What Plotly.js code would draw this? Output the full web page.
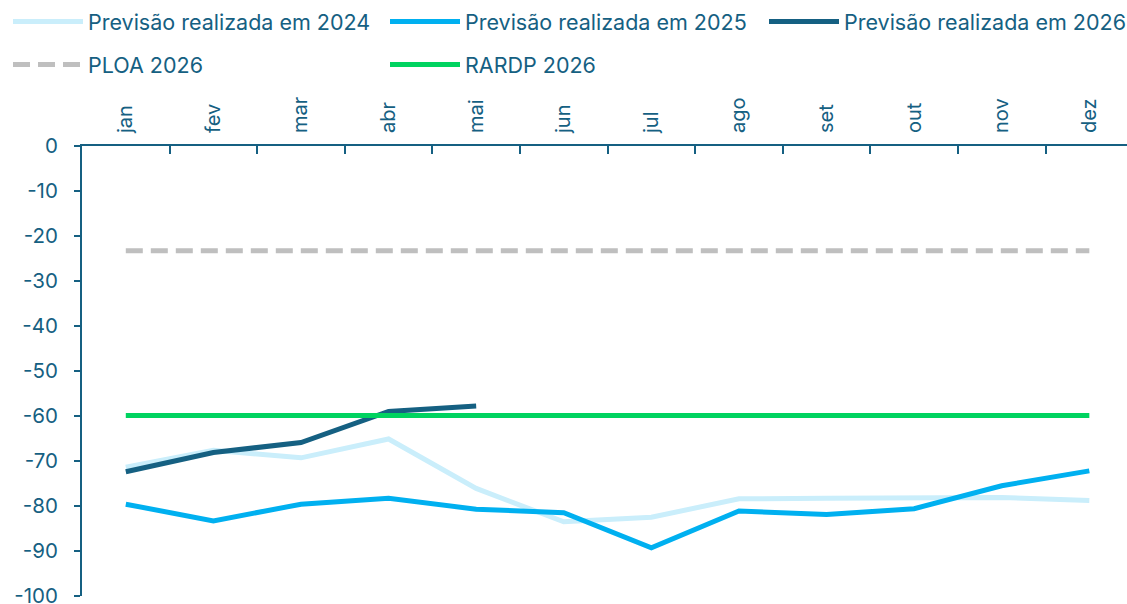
<!DOCTYPE html>
<html>
<head>
<meta charset="utf-8">
<script src="https://cdn.plot.ly/plotly-3.0.1.min.js"></script>
<style>
  html, body { margin: 0; padding: 0; background: #fff; }
  #chart { width: 1127px; height: 604px; }
</style>
</head>
<body>
<div id="chart"></div>
<script>
// --- Data ---
const months = ['jan', 'fev', 'mar', 'abr', 'mai', 'jun', 'jul', 'ago', 'set', 'out', 'nov', 'dez'];

const prev2024 = [-71.4, -67.6, -69.3, -65.1, -76.1, -83.5, -82.5, -78.4, -78.3, -78.3, -78.1, -78.8];
const prev2025 = [-79.6, -83.3, -79.6, -78.3, -80.7, -81.5, -89.3, -81.1, -81.9, -80.6, -75.5, -72.2];
const prev2026 = [-72.4, -68.1, -65.9, -59.0, -57.8];
const ploa2026 = [-23.3, -23.3, -23.3, -23.3, -23.3, -23.3, -23.3, -23.3, -23.3, -23.3, -23.3, -23.3];
const rardp2026 = [-59.9, -59.9, -59.9, -59.9, -59.9, -59.9, -59.9, -59.9, -59.9, -59.9, -59.9, -59.9];

const yTickVals = [0, -10, -20, -30, -40, -50, -60, -70, -80, -90, -100];
const yTickText = ['0', '-10', '-20', '-30', '-40', '-50', '-60', '-70', '-80', '-90', '-100'];

const textColor = '#156082';
const fontFamily = 'Inter, "Noto Sans", sans-serif';

// --- Traces ---
function lineTrace(name, y, color, legend, group, dash) {
    return {
        x: months.slice(0, y.length),
        y: y,
        type: 'scatter',
        mode: 'lines',
        name: name,
        legend: legend,
        legendgroup: group,
        line: { color: color, width: 5, dash: dash || 'solid' },
        hoverinfo: 'skip'
    };
}

const traces = [
    lineTrace('Previsão realizada em 2024', prev2024, '#CAEEFB', 'legend', 'a'),
    lineTrace('Previsão realizada em 2025', prev2025, '#00B0F0', 'legend2', 'c'),
    lineTrace('Previsão realizada em 2026', prev2026, '#156082', 'legend3', 'e'),
    lineTrace('PLOA 2026', ploa2026, '#BFBFBF', 'legend', 'b', '17px,8px'),
    lineTrace('RARDP 2026', rardp2026, '#00D360', 'legend2', 'd')
];

// --- Layout ---
const legendBase = {
    orientation: 'v',
    xref: 'container', yref: 'container',
    xanchor: 'left', yanchor: 'top',
    y: 1 - 1 / 604,
    bgcolor: 'rgba(0,0,0,0)',
    borderwidth: 0,
    itemwidth: 70,
    tracegroupgap: 12,
    itemclick: false,
    itemdoubleclick: false,
    font: { family: fontFamily, size: 21.5, color: textColor }
};

const layout = {
    width: 1127,
    height: 604,
    margin: { l: 82, r: 0, t: 146, b: 8, autoexpand: false },
    paper_bgcolor: '#fff',
    plot_bgcolor: '#fff',
    font: { family: fontFamily, size: 20, color: textColor },
    showlegend: true,
    legend: Object.assign({}, legendBase, { x: 8 / 1127 }),
    legend2: Object.assign({}, legendBase, { x: 385 / 1127 }),
    legend3: Object.assign({}, legendBase, { x: 764 / 1127 }),
    xaxis: {
        type: 'category',
        side: 'top',
        range: [-0.5, 11.43],
        tickangle: -90,
        tickson: 'boundaries',
        ticks: 'inside',
        ticklen: 8,
        tickwidth: 2,
        tickcolor: textColor,
        ticklabelstandoff: 7,
        showline: true,
        linecolor: textColor,
        linewidth: 2,
        showgrid: false,
        zeroline: false,
        tickfont: { family: fontFamily, size: 20, color: textColor },
        fixedrange: true
    },
    yaxis: {
        range: [-100, 0],
        tickmode: 'array',
        tickvals: yTickVals,
        ticktext: yTickText,
        ticks: 'outside',
        ticklen: 6,
        tickwidth: 2,
        tickcolor: textColor,
        ticklabelstandoff: 12,
        ticklabeloverflow: 'allow',
        showline: true,
        linecolor: textColor,
        linewidth: 2,
        showgrid: false,
        zeroline: false,
        tickfont: { family: fontFamily, size: 20.5, color: textColor },
        fixedrange: true
    }
};

Plotly.newPlot('chart', traces, layout, { displayModeBar: false, staticPlot: true });
</script>
</body>
</html>
